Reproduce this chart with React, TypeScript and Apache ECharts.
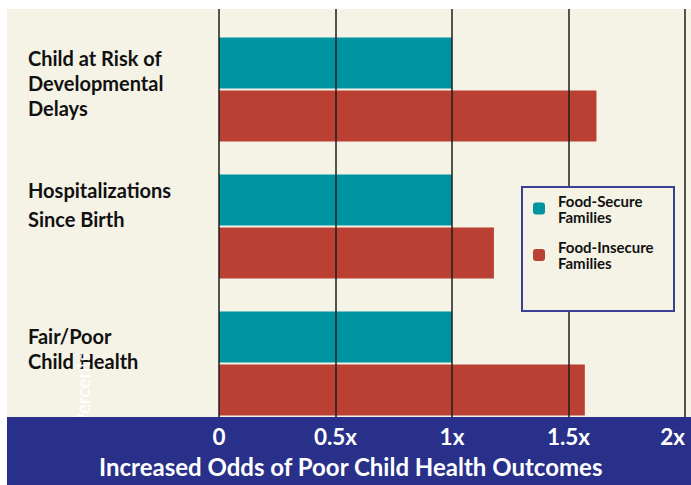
import React, { useEffect, useRef } from "react";
import * as echarts from "echarts";

const categories = [
  "Child at Risk of\nDevelopmental\nDelays",
  "Hospitalizations\nSince Birth",
  "Fair/Poor\nChild Health",
];
const seriesNames = ["Food-Secure\nFamilies", "Food-Insecure\nFamilies"];
const foodSecure = [1, 1, 1];
const foodInsecure = [1.62, 1.18, 1.57];
const xTicks = [0, 0.5, 1, 1.5, 2];
const xTitle = "Increased Odds of Poor Child Health Outcomes";
const yName = "Percents";

const FONT = "Lato, 'Open Sans', sans-serif";
const TEAL = "#0093a1";
const RED = "#b94033";
const CREAM = "#f5f3e6";
const NAVY = "#28308a";

export default function App() {
  const ref = useRef<HTMLDivElement>(null);
  useEffect(() => {
    document.body.style.margin = "0";
    if (!ref.current) return;
    const chart = echarts.init(ref.current, null, { renderer: "svg" });
    const lineHeights = [25, 29, 24.5];
    const bottomGaps = [13, 44, 30];
    const rich: Record<string, any> = {};
    lineHeights.forEach((lh, i) => {
      rich["t" + i] = { lineHeight: lh, fontSize: 20, fontWeight: "bold", fontFamily: FONT, color: "#111", align: "left" };
      rich["g" + i] = { lineHeight: bottomGaps[i], fontSize: 10, align: "left" };
    });
    const legendText = (padTop: number) => ({
      fontSize: 15,
      fontWeight: "bold",
      lineHeight: 16,
      color: "#111",
      fontFamily: FONT,
      padding: [padTop, 0, 0, 8],
    });
    chart.setOption({
      animation: false,
      backgroundColor: "#ffffff",
      title: {
        text: xTitle,
        left: 99,
        top: 454,
        padding: 0,
        z: 30,
        textStyle: { color: "#ffffff", fontSize: 24, fontWeight: "bold", fontFamily: FONT },
      },
      graphic: [
        { type: "rect", z: -10, shape: { x: 7, y: 9, width: 684, height: 408 }, style: { fill: CREAM } },
        {
          type: "text",
          z: 15,
          x: 82,
          y: 425,
          rotation: Math.PI / 2,
          style: { text: yName, fill: "#ffffff", fontSize: 19, fontFamily: FONT, align: "left", verticalAlign: "middle" },
        },
        { type: "rect", z: 20, shape: { x: 7, y: 417, width: 684, height: 68 }, style: { fill: NAVY } },
        {
          type: "rect",
          z: 30,
          shape: { x: 522, y: 187, width: 152, height: 124 },
          style: { fill: CREAM, stroke: "#3b3f94", lineWidth: 2 },
        },
      ],
      legend: [
        {
          data: [seriesNames[0]],
          left: 533,
          top: 188,
          padding: 0,
          itemWidth: 12,
          itemHeight: 12,
          z: 35,
          textStyle: legendText(9),
        },
        {
          data: [seriesNames[1]],
          left: 533,
          top: 229.5,
          padding: 0,
          itemWidth: 12,
          itemHeight: 12,
          z: 35,
          textStyle: legendText(19),
        },
      ],
      grid: [
        { left: 219, top: 9, width: 466, height: 408, outerBoundsMode: "none", containLabel: false },
        { left: 219, top: 21, width: 466, height: 411, outerBoundsMode: "none", containLabel: false },
      ],
      xAxis: [
        {
          gridIndex: 0,
          type: "value",
          min: xTicks[0],
          max: xTicks[xTicks.length - 1],
          interval: 0.5,
          z: 25,
          axisLine: { show: false },
          axisTick: { show: false },
          splitLine: { show: true, lineStyle: { color: "#1e1e1e", width: 1.5 } },
          axisLabel: {
            color: "#ffffff",
            fontSize: 22.5,
            fontWeight: "bold",
            fontFamily: FONT,
            margin: 8,
            hideOverlap: false,
            alignMaxLabel: "right",
            formatter: (v: number) => (v === 0 ? "0" : v + "x"),
          },
        },
        {
          gridIndex: 1,
          type: "value",
          min: xTicks[0],
          max: xTicks[xTicks.length - 1],
          show: false,
          splitLine: { show: false },
        },
      ],
      yAxis: [
        { gridIndex: 0, type: "value", show: false, splitLine: { show: false } },
        {
          gridIndex: 1,
          type: "category",
          inverse: true,
          data: categories,
          z: 5,
          axisLine: { show: false },
          axisTick: { show: false },
          axisLabel: {
            align: "left",
            margin: 191,
            color: "#111",
            fontSize: 20,
            fontWeight: "bold",
            fontFamily: FONT,
            formatter: (value: string, index: number) =>
              value
                .split("\n")
                .map((l) => `{t${index}|${l}}`)
                .join("\n") + `\n{g${index}| }`,
            rich,
          },
        },
      ],
      series: [
        {
          name: seriesNames[0],
          type: "bar",
          xAxisIndex: 1,
          yAxisIndex: 1,
          data: foodSecure,
          barWidth: 51,
          barGap: "4%",
          itemStyle: { color: TEAL },
        },
        {
          name: seriesNames[1],
          type: "bar",
          xAxisIndex: 1,
          yAxisIndex: 1,
          data: foodInsecure,
          barWidth: 51,
          barGap: "4%",
          itemStyle: { color: RED },
        },
      ],
    });
    return () => chart.dispose();
  }, []);
  return <div ref={ref} style={{ width: 691, height: 485 }} />;
}
